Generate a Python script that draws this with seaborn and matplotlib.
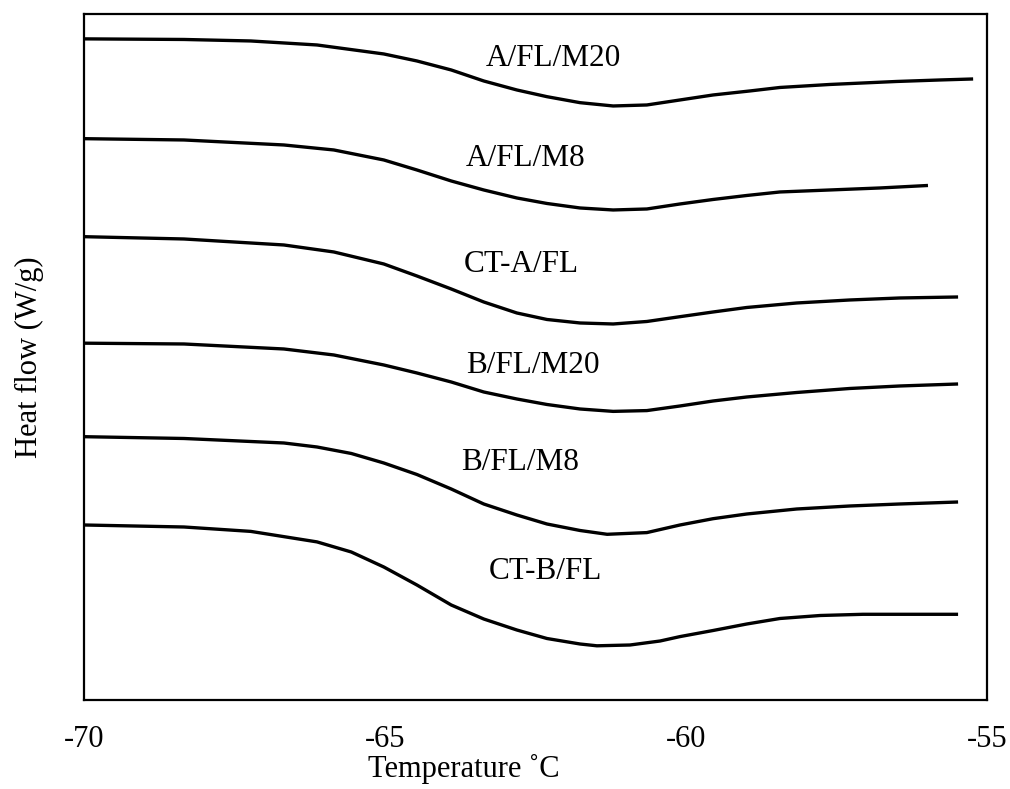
import numpy as np
import pandas as pd
import matplotlib
matplotlib.use("Agg")
import matplotlib.pyplot as plt
import seaborn as sns

# DSC heat-flow traces around the glass transition (offset, arbitrary units)
samples = ["A/FL/M20", "A/FL/M8", "CT-A/FL", "B/FL/M20", "B/FL/M8", "CT-B/FL"]

temp_a_fl_m20 = [-70.0, -68.34, -67.23, -66.13, -65.02, -64.47, -63.90, -63.36, -62.81, -62.31,
                 -61.76, -61.21, -60.65, -60.10, -59.55, -58.94, -58.44, -57.61, -56.50, -55.78, -55.23]
flow_a_fl_m20 = [6.611, 6.605, 6.59, 6.55, 6.46, 6.39, 6.30, 6.19, 6.10, 6.033,
                 5.973, 5.94, 5.95, 6.00, 6.05, 6.09, 6.125, 6.155, 6.185, 6.20, 6.21]

temp_a_fl_m8 = [-70.0, -68.34, -66.68, -65.85, -65.02, -64.47, -63.90, -63.36, -62.81, -62.31,
                -61.76, -61.21, -60.65, -60.10, -59.55, -58.99, -58.44, -57.61, -56.78, -55.98]
flow_a_fl_m8 = [5.613, 5.60, 5.55, 5.50, 5.40, 5.30, 5.19, 5.10, 5.02, 4.965,
                4.92, 4.90, 4.91, 4.96, 5.005, 5.045, 5.08, 5.10, 5.12, 5.145]

temp_ct_a_fl = [-70.0, -68.34, -66.68, -65.85, -65.02, -64.47, -63.90, -63.36, -62.81, -62.31,
                -61.76, -61.21, -60.65, -60.10, -59.55, -58.99, -58.16, -57.28, -56.45, -55.48]
flow_ct_a_fl = [4.633, 4.61, 4.55, 4.48, 4.36, 4.24, 4.11, 3.98, 3.87, 3.805,
                3.77, 3.76, 3.785, 3.833, 3.88, 3.925, 3.97, 4.00, 4.02, 4.03]

temp_b_fl_m20 = [-70.0, -68.34, -66.68, -65.85, -65.02, -64.47, -63.90, -63.36, -62.81, -62.31,
                 -61.76, -61.21, -60.65, -60.10, -59.55, -58.99, -58.16, -57.28, -56.45, -55.48]
flow_b_fl_m20 = [3.568, 3.56, 3.51, 3.45, 3.35, 3.27, 3.18, 3.08, 3.01, 2.955,
                 2.91, 2.886, 2.894, 2.94, 2.99, 3.03, 3.075, 3.115, 3.14, 3.16]

temp_b_fl_m8 = [-70.0, -68.34, -66.68, -66.13, -65.56, -65.02, -64.47, -63.90, -63.36, -62.81,
                -62.31, -61.76, -61.31, -60.65, -60.10, -59.55, -58.99, -58.16, -57.28, -56.45, -55.48]
flow_b_fl_m8 = [2.633, 2.615, 2.57, 2.53, 2.465, 2.37, 2.255, 2.11, 1.96, 1.85,
                1.76, 1.695, 1.657, 1.674, 1.75, 1.813, 1.86, 1.91, 1.94, 1.96, 1.98]

temp_ct_b_fl = [-70.0, -68.34, -67.23, -66.13, -65.56, -65.02, -64.47, -63.90, -63.36, -62.81,
                -62.31, -61.76, -61.48, -60.93, -60.43, -60.10, -59.55, -58.99, -58.44, -57.77,
                -57.06, -55.48]
flow_ct_b_fl = [1.75, 1.73, 1.686, 1.581, 1.48, 1.33, 1.15, 0.95, 0.81, 0.70,
                0.615, 0.56, 0.542, 0.55, 0.59, 0.634, 0.695, 0.76, 0.815, 0.845,
                0.857, 0.857]

# Curve label anchors (temperature, heat flow)
label_temp = [-62.20, -62.67, -62.74, -62.54, -62.76, -62.34]
label_flow = [6.41, 5.415, 4.355, 3.345, 2.375, 1.28]

x_ticks = [-70, -65, -60, -55]

traces = [
    (temp_a_fl_m20, flow_a_fl_m20),
    (temp_a_fl_m8, flow_a_fl_m8),
    (temp_ct_a_fl, flow_ct_a_fl),
    (temp_b_fl_m20, flow_b_fl_m20),
    (temp_b_fl_m8, flow_b_fl_m8),
    (temp_ct_b_fl, flow_ct_b_fl),
]
frames = []
for name, (t, f) in zip(samples, traces):
    frames.append(pd.DataFrame({"sample": name, "temperature": t, "heat_flow": f}))
df = pd.concat(frames, ignore_index=True)

sns.set_theme(style="white")
plt.rcParams["font.family"] = ["Liberation Serif", "DejaVu Serif"]
plt.rcParams["lines.solid_joinstyle"] = "round"
plt.rcParams["lines.solid_capstyle"] = "butt"

fig = plt.figure(figsize=(10.1, 7.89), dpi=100)
ax = fig.add_axes([0.0832, 0.1128, 0.894, 0.8695])

sns.lineplot(data=df, x="temperature", y="heat_flow", hue="sample",
             estimator=None, sort=False, palette=["black"] * len(samples),
             linewidth=2.4, legend=False, ax=ax)

for name, tx, fy in zip(samples, label_temp, label_flow):
    ax.text(tx, fy, name, ha="center", va="center", fontsize=22.5, color="black")

ax.set_xlim(-70, -55)
ax.set_ylim(0, 6.86)
ax.set_xticks(x_ticks)
ax.set_xticklabels([str(v) for v in x_ticks])
ax.set_yticks([])
ax.tick_params(axis="x", length=0, pad=18, labelsize=22, colors="black")

for spine in ax.spines.values():
    spine.set_visible(True)
    spine.set_color("black")
    spine.set_linewidth(1.6)

ax.set_xlabel("Temperature \u02daC", fontsize=22, color="black")
ax.xaxis.set_label_coords(0.421, -0.079)
ax.set_ylabel("Heat flow (W/g)", fontsize=22, color="black")
ax.yaxis.set_label_coords(-0.044, 0.5)

fig.savefig("out.png", dpi=100, facecolor="white")
